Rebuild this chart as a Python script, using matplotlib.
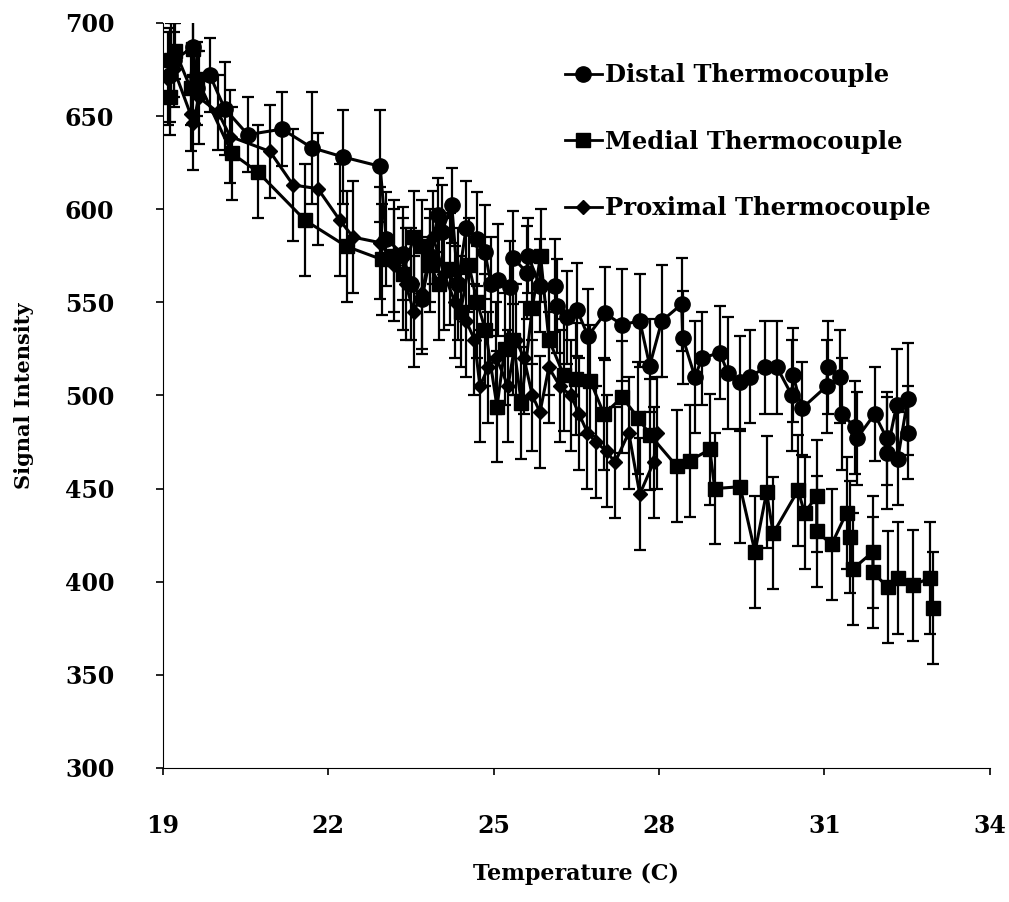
import matplotlib
matplotlib.use("Agg")
import matplotlib.pyplot as plt
from matplotlib.lines import Line2D

plt.rcParams['font.family'] = ['DejaVu Serif']
plt.rcParams['font.weight'] = 'bold'

# distal thermocouple: temperature (C), signal, error
distal_t = [19.12, 19.2, 19.54, 19.62, 19.85, 20.12, 20.54, 21.16, 21.7, 22.27,
            22.94, 23.05, 23.35, 23.5, 23.7, 23.85, 23.99, 24.06, 24.24, 24.35,
            24.5, 24.7, 24.84, 24.95, 25.08, 25.3, 25.35, 25.6, 25.62, 25.84,
            26.11, 26.15, 26.33, 26.51, 26.71, 27.02, 27.33, 27.65, 27.83, 28.05,
            28.41, 28.43, 28.65, 28.78, 29.1, 29.25, 29.47, 29.65, 29.92, 30.14,
            30.41, 30.43, 30.59, 31.04, 31.06, 31.28, 31.32, 31.55, 31.59, 31.91,
            32.13, 32.13, 32.31, 32.33, 32.51, 32.51]
distal_s = [672, 680, 687, 665, 672, 654, 640, 643, 633, 628,
            623, 584, 576, 560, 552, 575, 597, 588, 602, 560,
            590, 584, 577, 560, 562, 558, 574, 566, 575, 559,
            559, 548, 542, 546, 532, 544, 538, 540, 516, 540,
            549, 531, 510, 520, 523, 512, 507, 510, 515, 515,
            500, 511, 493, 505, 515, 510, 490, 483, 477, 490,
            477, 469, 495, 466, 498, 480]
distal_e = [25, 20, 15, 20, 20, 25, 20, 20, 30, 25,
            30, 25, 25, 30, 30, 25, 20, 25, 20, 30,
            25, 25, 25, 25, 30, 25, 25, 25, 20, 25,
            25, 25, 25, 25, 25, 25, 30, 25, 25, 30,
            25, 25, 30, 25, 25, 30, 25, 25, 25, 25,
            30, 25, 25, 25, 25, 25, 30, 25, 25, 25,
            25, 30, 30, 25, 30, 25]

# medial thermocouple
medial_t = [19.12, 19.15, 19.22, 19.5, 19.54, 19.62, 20.25, 20.72, 21.58, 22.33,
            22.97, 23.2, 23.35, 23.55, 23.7, 23.85, 24.0, 24.2, 24.4, 24.55,
            24.7, 24.85, 25.06, 25.2, 25.35, 25.5, 25.7, 25.85, 26.0, 26.27,
            26.5, 26.75, 27.0, 27.33, 27.62, 27.83, 28.32, 28.56, 28.92, 29.01,
            29.47, 29.74, 29.95, 30.07, 30.52, 30.64, 30.86, 30.86, 31.13, 31.4,
            31.46, 31.52, 31.88, 31.88, 32.15, 32.33, 32.6, 32.91, 32.97]
medial_s = [660, 680, 685, 665, 686, 670, 630, 620, 594, 580,
            573, 575, 565, 585, 580, 570, 560, 568, 545, 570,
            550, 535, 494, 525, 530, 496, 547, 575, 530, 511,
            509, 508, 490, 499, 488, 479, 462, 465, 471, 450,
            451, 416, 448, 426, 449, 437, 446, 427, 420, 437,
            424, 407, 416, 405, 397, 402, 398, 402, 386]
medial_e = [20, 20, 15, 20, 15, 20, 25, 25, 30, 30,
            30, 30, 30, 25, 25, 25, 30, 30, 30, 25,
            30, 30, 30, 30, 30, 30, 30, 25, 30, 30,
            30, 30, 30, 30, 30, 30, 30, 30, 30, 30,
            30, 30, 30, 30, 30, 30, 30, 30, 30, 30,
            30, 30, 30, 30, 30, 30, 30, 30, 30]

# proximal thermocouple
prox_t = [19.1, 19.2, 19.5, 19.55, 19.65, 20.0, 20.22, 20.94, 21.36, 21.81,
          22.21, 22.45, 22.94, 23.2, 23.4, 23.55, 23.7, 23.9, 24.1, 24.3,
          24.5, 24.65, 24.75, 24.9, 25.05, 25.26, 25.4, 25.55, 25.7, 25.84,
          26.0, 26.2, 26.4, 26.55, 26.7, 26.85, 27.05, 27.2, 27.45, 27.65,
          27.9, 27.96]
prox_s = [670, 675, 651, 646, 660, 652, 639, 631, 613, 611,
          594, 585, 582, 570, 560, 545, 555, 585, 565, 550,
          540, 530, 505, 515, 520, 505, 530, 520, 500, 491,
          515, 505, 500, 490, 480, 475, 470, 464, 480, 447,
          464, 480]
prox_e = [25, 20, 20, 25, 25, 20, 25, 25, 30, 30,
          30, 30, 30, 30, 30, 30, 30, 25, 30, 30,
          30, 30, 30, 30, 30, 30, 30, 30, 30, 30,
          30, 30, 30, 30, 30, 30, 30, 30, 30, 30,
          30, 30]

fig = plt.figure(figsize=(10.09, 9.02), dpi=100)
ax = fig.add_axes([0.1615, 0.1486, 0.8195, 0.826])

kw = dict(color='black', lw=2.2, ecolor='black', elinewidth=1.6, capsize=4, capthick=1.6)
ax.errorbar(distal_t, distal_s, yerr=distal_e, fmt='-o', ms=11, **kw)
ax.errorbar(medial_t, medial_s, yerr=medial_e, fmt='-s', ms=10, **kw)
ax.errorbar(prox_t, prox_s, yerr=prox_e, fmt='-D', ms=7, **kw)

ax.set_xlim(19, 34)
ax.set_ylim(300, 700)
ax.set_xticks([19, 22, 25, 28, 31, 34])
ax.set_yticks(range(300, 701, 50))
ax.spines['top'].set_visible(False)
ax.spines['right'].set_visible(False)
ax.tick_params(axis='both', labelsize=17, direction='out', length=5, width=1.2)
ax.tick_params(axis='y', pad=30)
ax.tick_params(axis='x', pad=28)

ax.set_xlabel('Temperature (C)', fontsize=16, fontweight='bold', labelpad=18)
ax.set_ylabel('Signal Intensity', fontsize=15, fontweight='bold', labelpad=22)

handles = [Line2D([], [], color='black', lw=2, marker='o', ms=11),
           Line2D([], [], color='black', lw=2, marker='s', ms=10),
           Line2D([], [], color='black', lw=2, marker='D', ms=7)]
labels = ['Distal Thermocouple', 'Medial Thermocouple', 'Proximal Thermocouple']
ax.legend(handles, labels, loc='upper left', bbox_to_anchor=(0.46, 0.975), frameon=False,
          fontsize=17.5, labelspacing=1.75, handlelength=1.5, handletextpad=0.15)

fig.savefig('out.png', dpi=100)
